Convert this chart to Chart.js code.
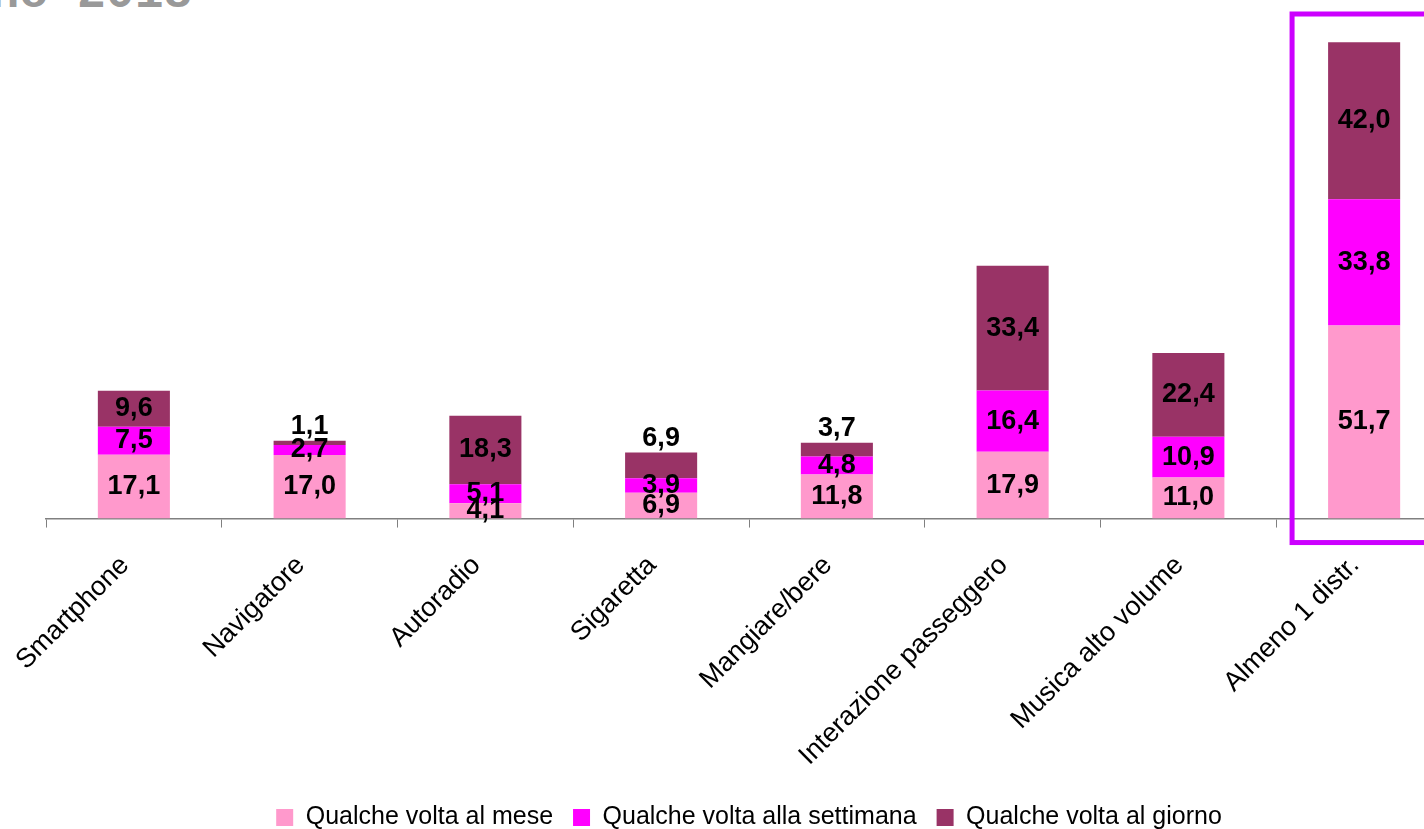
<!DOCTYPE html>
<html>
<head>
<meta charset="utf-8">
<script src="https://cdn.jsdelivr.net/npm/chart.js@4"></script>
<style>
  html, body { margin: 0; padding: 0; background: #fff; overflow: hidden; }
  #wrap { position: absolute; left: 0; top: 0; width: 1452px; height: 840px; }
  #title {
    position: absolute; left: -67px; top: -30px;
    font: bold 48px "Liberation Mono", "DejaVu Sans Mono", monospace;
    color: #999; line-height: 48px; white-space: nowrap;
  }
</style>
</head>
<body>
<div id="title">Anno 2018</div>
<div id="wrap"><canvas id="chart"></canvas></div>
<script>
const categories = ['Smartphone', 'Navigatore', 'Autoradio', 'Sigaretta', 'Mangiare/bere',
  'Interazione passeggero', 'Musica alto volume', 'Almeno 1 distr.'];
const seriesNames = ['Qualche volta al mese', 'Qualche volta alla settimana', 'Qualche volta al giorno'];
const mese = [17.1, 17.0, 4.1, 6.9, 11.8, 17.9, 11.0, 51.7];
const settimana = [7.5, 2.7, 5.1, 3.9, 4.8, 16.4, 10.9, 33.8];
const giorno = [9.6, 1.1, 18.3, 6.9, 3.7, 33.4, 22.4, 42.0];
const colors = ['#FF99CC', '#FF00FF', '#993366'];

const FONT = '"Liberation Sans", Arial, sans-serif';

// etichette dei valori dentro i segmenti
const valueLabels = {
  id: 'valueLabels',
  afterDatasetsDraw(chart) {
    const ctx = chart.ctx;
    ctx.save();
    ctx.font = 'bold 27px ' + FONT;
    ctx.fillStyle = '#000';
    ctx.textAlign = 'center';
    ctx.textBaseline = 'middle';
    const last = chart.data.datasets.length - 1;
    chart.data.datasets.forEach((ds, di) => {
      chart.getDatasetMeta(di).data.forEach((bar, i) => {
        const top = Math.min(bar.y, bar.base);
        const h = Math.abs(bar.base - bar.y);
        let y = top + h / 2;
        if (di === last && h < 30) y = top - 14;
        ctx.fillText(ds.data[i].toFixed(1).replace('.', ','), bar.x, y);
      });
    });
    ctx.restore();
  }
};

// riquadro evidenziato sull'ultima categoria
const highlight = {
  id: 'highlight',
  afterDraw(chart) {
    const x = chart.scales.x;
    const step = x.getPixelForValue(1) - x.getPixelForValue(0);
    const left = x.getPixelForValue(categories.length - 1) - step * 0.41;
    const ctx = chart.ctx;
    ctx.save();
    ctx.strokeStyle = '#CC00FF';
    ctx.lineWidth = 5;
    ctx.strokeRect(left, 14, chart.width - left + 20, chart.chartArea.bottom + 24 - 14);
    ctx.restore();
  }
};

new Chart(document.getElementById('chart'), {
  type: 'bar',
  data: {
    labels: categories,
    datasets: [
      { label: seriesNames[0], data: mese, backgroundColor: colors[0] },
      { label: seriesNames[1], data: settimana, backgroundColor: colors[1] },
      { label: seriesNames[2], data: giorno, backgroundColor: colors[2] }
    ]
  },
  options: {
    responsive: true,
    maintainAspectRatio: false,
    animation: false,
    devicePixelRatio: 1,
    datasets: { bar: { categoryPercentage: 1, barPercentage: 0.41 } },
    layout: { padding: { left: 46, top: 33, right: 0, bottom: 0 } },
    scales: {
      x: {
        stacked: true,
        grid: { drawOnChartArea: false, drawTicks: true, tickLength: 9, color: '#808080', offset: true },
        border: { display: true, color: '#808080', width: 1.5 },
        ticks: {
          color: '#000', font: { family: FONT, size: 27 },
          maxRotation: 45, minRotation: 45, padding: 22, labelOffset: -9
        },
        afterFit(axis) { axis.height -= 9; }
      },
      y: {
        stacked: true,
        display: false,
        min: 0,
        max: 130
      }
    },
    plugins: {
      legend: {
        position: 'bottom',
        labels: { color: '#000', font: { family: FONT, size: 25 }, boxWidth: 17, boxHeight: 17, padding: 20 }
      },
      tooltip: { enabled: false }
    }
  },
  plugins: [valueLabels, highlight]
});
</script>
</body>
</html>
